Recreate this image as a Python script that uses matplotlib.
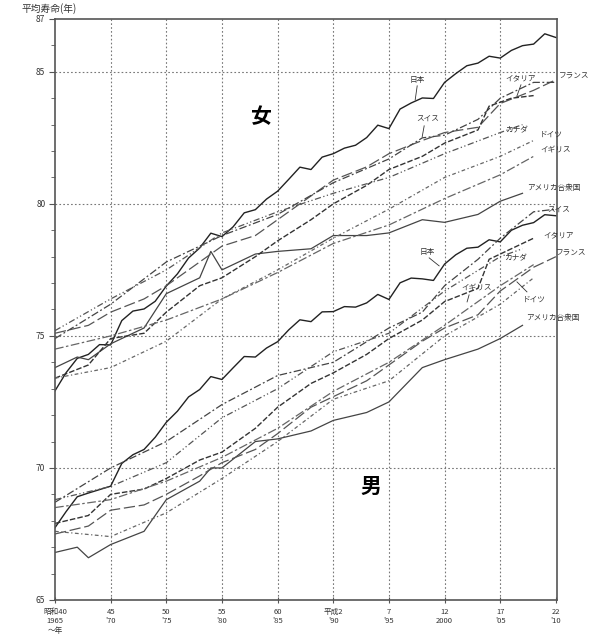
import matplotlib
matplotlib.use("Agg")
import matplotlib.pyplot as plt
import numpy as np

plt.rcParams['font.family'] = ['Noto Sans CJK JP', 'DejaVu Sans']

# ---------------- data ----------------
jp_years = list(range(1965, 2011))
jp_f = [72.92, 73.61, 74.15, 74.30, 74.67, 74.66, 75.58, 75.94, 76.02, 76.31,
        76.89, 77.35, 77.95, 78.33, 78.89, 78.76, 79.13, 79.66, 79.78, 80.18,
        80.48, 80.93, 81.39, 81.30, 81.77, 81.90, 82.11, 82.22, 82.51, 82.98,
        82.85, 83.59, 83.82, 84.01, 83.99, 84.60, 84.93, 85.23, 85.33, 85.59,
        85.52, 85.81, 85.99, 86.05, 86.44, 86.30]
jp_m = [67.74, 68.35, 68.91, 69.05, 69.18, 69.31, 70.17, 70.50, 70.70, 71.16,
        71.73, 72.15, 72.69, 72.97, 73.46, 73.35, 73.79, 74.22, 74.20, 74.54,
        74.78, 75.23, 75.61, 75.54, 75.91, 75.92, 76.11, 76.09, 76.25, 76.57,
        76.38, 77.01, 77.19, 77.16, 77.10, 77.72, 78.07, 78.32, 78.36, 78.64,
        78.56, 79.00, 79.19, 79.29, 79.59, 79.55]

fr_years = [1965, 1968, 1970, 1973, 1975, 1978, 1980, 1983, 1985, 1988, 1990,
            1993, 1995, 1998, 2000, 2003, 2005, 2008, 2010]
fr_f = [75.1, 75.4, 75.9, 76.4, 76.9, 77.8, 78.4, 78.8, 79.4, 80.3, 80.9,
        81.4, 81.9, 82.4, 82.7, 82.9, 83.8, 84.3, 84.7]
fr_m = [67.5, 67.8, 68.4, 68.6, 69.0, 69.7, 70.2, 70.7, 71.3, 72.3, 72.7,
        73.3, 73.9, 74.8, 75.3, 75.8, 76.7, 77.6, 78.0]

ch_years = [1965, 1970, 1975, 1980, 1985, 1990, 1995, 1998, 2000, 2003, 2005, 2008, 2010]
ch_f = [74.9, 76.2, 77.8, 78.8, 79.6, 80.8, 81.7, 82.5, 82.6, 83.2, 84.0, 84.6, 84.6]
ch_m = [68.7, 70.0, 71.0, 72.4, 73.5, 74.0, 75.3, 75.9, 76.9, 77.9, 78.7, 79.7, 79.8]

it_years = [1965, 1968, 1970, 1973, 1975, 1978, 1980, 1983, 1985, 1988, 1990,
            1993, 1995, 1998, 2000, 2003, 2004, 2006, 2008]
it_f = [73.4, 73.9, 74.9, 75.1, 75.9, 76.9, 77.2, 78.0, 78.6, 79.4, 80.0,
        80.7, 81.3, 81.8, 82.3, 82.8, 83.7, 84.0, 84.1]
it_m = [67.9, 68.2, 69.0, 69.2, 69.6, 70.3, 70.6, 71.5, 72.3, 73.2, 73.6,
        74.3, 74.9, 75.6, 76.3, 76.8, 77.9, 78.3, 78.7]

ca_years = [1965, 1970, 1975, 1980, 1985, 1990, 1995, 2000, 2005, 2007]
ca_f = [75.2, 76.4, 77.5, 78.9, 79.7, 80.4, 81.0, 81.9, 82.7, 83.0]
ca_m = [68.8, 69.3, 70.2, 71.9, 73.0, 74.4, 75.1, 76.7, 78.0, 78.3]

de_years = [1965, 1970, 1975, 1980, 1985, 1990, 1995, 2000, 2005, 2008]
de_f = [73.4, 73.8, 74.8, 76.4, 77.5, 78.7, 79.8, 81.0, 81.8, 82.4]
de_m = [67.6, 67.4, 68.3, 69.6, 71.0, 72.6, 73.3, 75.0, 76.2, 77.2]

uk_years = [1965, 1970, 1975, 1980, 1985, 1990, 1995, 2000, 2005, 2008]
uk_f = [74.5, 75.0, 75.6, 76.4, 77.4, 78.5, 79.2, 80.2, 81.1, 81.8]
uk_m = [68.5, 68.8, 69.5, 70.4, 71.5, 72.9, 74.0, 75.4, 76.9, 77.7]

us_years = [1965, 1967, 1968, 1970, 1973, 1975, 1978, 1979, 1980, 1983, 1985,
            1988, 1990, 1993, 1995, 1998, 2000, 2003, 2005, 2007]
us_f = [73.8, 74.2, 74.1, 74.7, 75.3, 76.6, 77.2, 78.2, 77.5, 78.1, 78.2,
        78.3, 78.8, 78.8, 78.9, 79.4, 79.3, 79.6, 80.1, 80.4]
us_m = [66.8, 67.0, 66.6, 67.1, 67.6, 68.8, 69.5, 70.0, 70.0, 71.0, 71.1,
        71.4, 71.8, 72.1, 72.5, 73.8, 74.1, 74.5, 74.9, 75.4]

x_ticks = [1965, 1970, 1975, 1980, 1985, 1990, 1995, 2000, 2005, 2010]
x_labels = ["昭和40\n1965\n～年", "45\n'70", "50\n'75", "55\n'80", "60\n'85",
            "平成2\n'90", "7\n'95", "12\n2000", "17\n'05", "22\n'10"]
y_ticks = [65, 70, 75, 80, 85, 87]

# ---------------- plot ----------------
fig = plt.figure(figsize=(6.09, 6.43), dpi=100)
ax = fig.add_axes([55/609, 1 - 600/643, (557-55)/609, (600-19)/643])

series = [
    (jp_years, jp_f, jp_m, dict(color='#222222', lw=1.0, ls='-')),
    (us_years, us_f, us_m, dict(color='#444444', lw=0.9, ls='-')),
    (fr_years, fr_f, fr_m, dict(color='#555555', lw=0.9, ls=(0, (9, 3)))),
    (ch_years, ch_f, ch_m, dict(color='#444444', lw=0.9, ls=(0, (6, 2, 1.5, 2)))),
    (it_years, it_f, it_m, dict(color='#333333', lw=1.0, ls=(0, (4, 1.5)))),
    (ca_years, ca_f, ca_m, dict(color='#555555', lw=0.9, ls=(0, (5, 2, 1, 2, 1, 2)))),
    (de_years, de_f, de_m, dict(color='#666666', lw=0.9, ls=(0, (3, 2, 1, 2)))),
    (uk_years, uk_f, uk_m, dict(color='#666666', lw=0.9, ls=(0, (7, 2, 2, 2)))),
]
for yrs, f, m, st in series:
    ax.plot(yrs, f, **st)
    ax.plot(yrs, m, **st)

ax.set_xlim(1965, 2010.1)
ax.set_ylim(65, 87)

for xv in x_ticks[1:-1]:
    ax.axvline(xv, color='#777777', lw=0.8, ls=(0, (1.5, 2)), zorder=0)
for yv in [70, 75, 80, 85]:
    ax.axhline(yv, color='#777777', lw=0.8, ls=(0, (1.5, 2)), zorder=0)

ax.set_xticks(x_ticks)
ax.set_xticklabels(x_labels, fontsize=5.5, color='#333333', linespacing=1.25)
ax.set_yticks(y_ticks)
ax.set_yticklabels([str(v) for v in y_ticks], fontsize=6, color='#333333')
ax.set_yticks(np.arange(65, 88, 1), minor=True)
ax.tick_params(axis='y', which='minor', length=3, color='#555555')
ax.tick_params(axis='y', which='major', length=4, color='#555555', pad=3)
ax.tick_params(axis='x', which='major', length=5, direction='inout',
               color='#555555', pad=3)
for s in ax.spines.values():
    s.set_color('#555555')
    s.set_linewidth(1.2)

fig.text(22/609, 1 - 9/643, "平均寿命(年)", fontsize=7, color='#333333',
         va='center', ha='left')

ax.text(1983.5, 83.3, "女", fontsize=15, fontweight='bold', ha='center', va='center')
ax.text(1993.4, 69.3, "男", fontsize=15, fontweight='bold', ha='center', va='center')

def px2d(px, py):
    return 1965 + (px - 55) / (502 / 45), 65 + (600 - py) / 26.4

labels = [
    ("日本", 418, 80), ("イタリア", 522, 79), ("フランス", 575, 77),
    ("スイス", 428, 120), ("カナダ", 518, 130), ("ドイツ", 552, 135),
    ("イギリス", 557, 151), ("アメリカ合衆国", 555, 188),
    ("スイス", 560, 211), ("イタリア", 560, 235), ("フランス", 572, 254),
    ("日本", 428, 252), ("カナダ", 517, 258), ("イギリス", 478, 289),
    ("ドイツ", 535, 300), ("アメリカ合衆国", 554, 318),
]
for t, px, py in labels:
    xd, yd = px2d(px, py)
    ax.text(xd, yd, t, fontsize=5.5, color='#333333', ha='center', va='center',
            clip_on=False)

leaders = [((418, 86), (416, 100)), ((522, 85), (518, 96)),
           ((425, 126), (423, 137)), ((430, 258), (440, 266)),
           ((528, 292), (518, 282)), ((470, 295), (468, 302))]
for (a, b) in leaders:
    x0, y0 = px2d(*a)
    x1, y1 = px2d(*b)
    ax.plot([x0, x1], [y0, y1], color='#333333', lw=0.6, clip_on=False)

fig.savefig("out.png", dpi=100)
